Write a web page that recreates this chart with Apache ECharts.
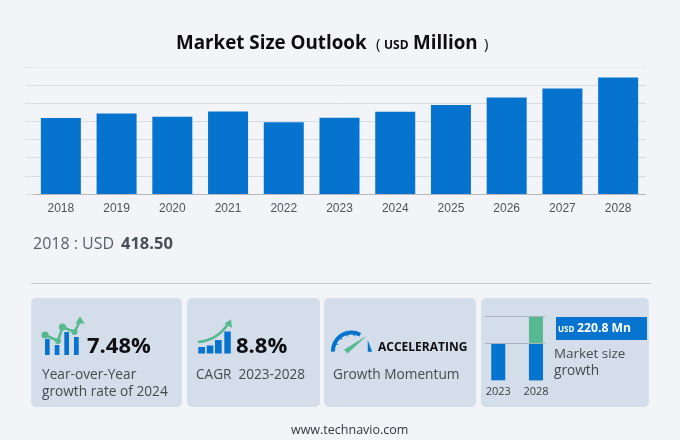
<!DOCTYPE html>
<html>
<head>
<meta charset="utf-8">
<style>html,body{margin:0;padding:0;background:#f3f4f7}#c{width:680px;height:440px}</style>
<script src="https://cdn.jsdelivr.net/npm/echarts@6/dist/echarts.min.js"></script>
</head>
<body>
<div id="c"></div>
<script>
const years = ['2018','2019','2020','2021','2022','2023','2024','2025','2026','2027','2028'];
const marketSize = [418.5,444,426,455,395,420,453,490,532,582,642];
const axisMax = 700;
const axisStep = 100;
const miniYears = [2023,2028];
const miniBase = [37,37];
const miniTop = [0,64];
const miniLines = [37,64];

const BLUE='#0674cf', GREEN='#57b98f', PANEL='#d3deea', INK='#0d0d12', GREY='#444a50';
const UI='"Open Sans","Noto Sans",sans-serif';

const txt=(x,y,text,size,weight,fill,family)=>({type:'text',x,y,style:{text,fontSize:size,fontWeight:weight||'normal',fill:fill||GREY,fontFamily:family||UI,textAlign:'left',textVerticalAlign:'middle'}});
const panel=(x,y,w,h)=>({type:'rect',shape:{x,y,width:w,height:h,r:5},style:{fill:PANEL}});
const bar=(x,y,w,h,f)=>({type:'rect',shape:{x,y,width:w,height:h},style:{fill:f||BLUE}});
const poly=(points,color,w)=>({type:'polyline',shape:{points},style:{stroke:color,lineWidth:w,fill:null}});
const dot=(cx,cy,r)=>({type:'circle',shape:{cx,cy,r},style:{fill:GREEN}});
const tri=(points,f)=>({type:'polygon',shape:{points},style:{fill:f||GREEN}});
const arc=(cx,cy,r,a,b,w,c)=>({type:'arc',shape:{cx,cy,r,startAngle:a,endAngle:b},style:{stroke:c||BLUE,lineWidth:w,fill:null}});
const deg=d=>d*Math.PI/180;
const gaugeTick=d=>({type:'line',shape:{x1:351.5+17*Math.cos(deg(d)),y1:351+17*Math.sin(deg(d)),x2:351.5+15*Math.cos(deg(d)),y2:351+15*Math.sin(deg(d))},style:{stroke:BLUE,lineWidth:1.2}});

const graphics=[
  panel(31,298,151,109),panel(187,298,133,109),panel(324,298,152,109),panel(481,298,168,109),
  {type:'line',shape:{x1:31,y1:283.5,x2:651,y2:283.5},style:{stroke:'#c4c6cc',lineWidth:1}},
  txt(176,44,'Market Size Outlook',18.8,'bold',INK),
  txt(376,45,'(',15,'normal',INK),
  txt(384,46,'USD',12,'bold',INK),
  txt(413,44,'Million',18.8,'bold',INK),
  txt(484,45,')',15,'normal',INK),
  txt(33,244,'2018 : USD',16,'normal','#5a5f66'),
  txt(121,244,'418.50',16.5,'bold','#4a4e55'),
  // yoy icon
  bar(45,339,4.7,16),bar(54.7,345,4.7,10),bar(64.3,332,4.7,23),bar(74,337,4.7,18),
  poly([[45,335],[58,341],[62.5,327],[74.5,332],[80,321]],GREEN,2.6),
  dot(45,335,3.6),dot(58,341,3),dot(62.5,327,3.6),dot(74.5,332,3),
  tri([[80,316.5],[84.5,323.5],[75.5,323.5]]),
  txt(87,347,'7.48%',22,'bold',INK),
  txt(42,375,'Year-over-Year',13.7),
  txt(42,392,'growth rate of 2024',13.7),
  // cagr icon
  bar(198.3,347,6.7,6.5),bar(206.7,345.5,6.7,8),bar(215,340,6.7,13.5),bar(224.3,331.5,6.5,22),
  {type:'bezierCurve',shape:{x1:198,y1:342,cpx1:210,cpy1:341,cpx2:220,cpy2:336,x2:228,y2:324},style:{stroke:GREEN,lineWidth:2.6,fill:null}},
  tri([[231,319.5],[232,328],[224.5,323.5]]),
  txt(236,347,'8.8%',22,'bold',INK),
  txt(196,375,'CAGR  2023-2028',13.6),
  // gauge icon
  arc(351.5,351,18.5,deg(178),deg(298),4),
  tri([[367.7,340],[372.2,351.7],[367.8,351.7]],BLUE),
  gaugeTick(205),gaugeTick(230),gaugeTick(255),gaugeTick(280),
  tri([[344,349.8],[347.5,353.5],[367,335.5]]),
  txt(378,347.5,'ACCELERATING',12,'bold',INK),
  txt(333,375,'Growth Momentum',13.7),
  // growth panel
  bar(556,317,91,23),
  txt(558,330,'USD',8,'bold','#ffffff'),
  txt(577,329,'220.8 Mn',12.2,'bold','#ffffff'),
  txt(554,354,'Market size',13.4),
  txt(554,371,'growth',13.7),
  txt(291,430.5,'www.technavio.com',12.5,'normal','#33373c')
];

const chart=echarts.init(document.getElementById('c'),null,{renderer:'canvas'});
chart.setOption({
  animation:false,
  backgroundColor:'#f3f4f7',
  graphic:{elements:graphics},
  grid:[
    {left:33,right:34,top:67,height:127},
    {left:485,width:60,top:316.7,height:63.6}
  ],
  xAxis:[
    {type:'category',gridIndex:0,data:years,
      axisTick:{show:false},axisLine:{lineStyle:{color:'#b4b7bc'}},
      axisLabel:{color:'#4f5358',fontSize:12,fontFamily:'"Liberation Sans",Arial,sans-serif',margin:9}},
    {type:'value',gridIndex:1,min:2021.24,max:2029.2,
      splitLine:{show:false},axisLine:{show:false},axisTick:{show:false},
      axisLabel:{customValues:miniYears,formatter:v=>String(v),color:'#3a3f45',fontSize:11,fontFamily:UI,margin:6}}
  ],
  yAxis:[
    {type:'value',gridIndex:0,min:0,max:axisMax,interval:axisStep,
      axisLabel:{show:false},axisLine:{show:false},
      axisTick:{show:true,length:8,lineStyle:{color:'#dfe1e5'}},
      splitLine:{lineStyle:{color:['#b4b7bc','#d9dbe0','#d9dbe0','#d9dbe0','#d9dbe0','#d9dbe0','#d9dbe0','#e9eaed']}}},
    {type:'value',gridIndex:1,min:0,max:64,
      axisLabel:{show:false},axisLine:{show:false},axisTick:{show:false},splitLine:{show:false}}
  ],
  series:[
    {type:'bar',xAxisIndex:0,yAxisIndex:0,data:marketSize,barWidth:40,itemStyle:{color:BLUE}},
    {type:'bar',xAxisIndex:1,yAxisIndex:1,barWidth:14,barGap:'-100%',
      data:miniYears.map((y,i)=>[y,miniTop[i]]),itemStyle:{color:GREEN},
      markLine:{silent:true,symbol:'none',label:{show:false},
        lineStyle:{color:'#aab2bc',width:1,type:'solid'},
        data:miniLines.map(v=>({yAxis:v}))}},
    {type:'bar',xAxisIndex:1,yAxisIndex:1,barWidth:14,barGap:'-100%',
      data:miniYears.map((y,i)=>[y,miniBase[i]]),itemStyle:{color:BLUE}}
  ]
});
</script>
</body>
</html>
